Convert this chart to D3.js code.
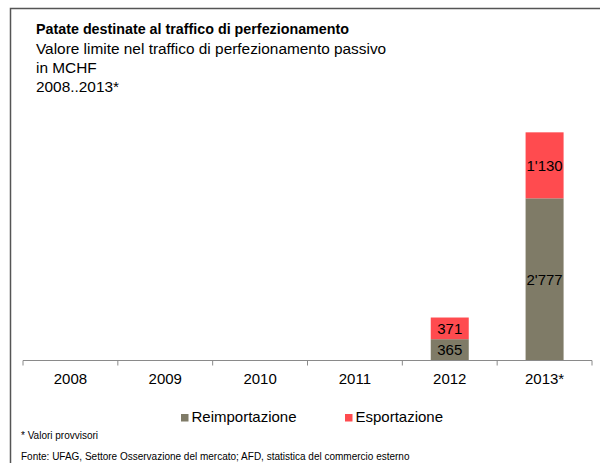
<!DOCTYPE html>
<html><head><meta charset="utf-8">
<script src="https://cdn.jsdelivr.net/npm/d3@7"></script>
<style>body{margin:0;background:#fff}svg{display:block;font-family:"Liberation Sans",Arial,sans-serif}</style>
</head><body><svg id="c" width="600" height="463"></svg>
<script>
const categories = ["2008","2009","2010","2011","2012","2013*"];
const reimportazione = [0,0,0,0,365,2777];
const esportazione = [0,0,0,0,371,1130];
const seriesNames = ["Reimportazione","Esportazione"];
const colors = ["#7f7b67","#ff4b4f"];
const fmt = v => d3.format(",")(v).replace(/,/g,"'");

const svg = d3.select("#c");
svg.append("rect").attr("x",10.5).attr("y",8.5).attr("width",620).attr("height",500)
  .attr("fill","none").attr("stroke","#555").attr("stroke-width",1.5);

const t = svg.append("g").attr("fill","#000");
t.append("text").attr("x",36).attr("y",34).attr("font-size",14.3).attr("font-weight","bold").text("Patate destinate al traffico di perfezionamento");
t.append("text").attr("x",36).attr("y",54).attr("font-size",15.4).text("Valore limite nel traffico di perfezionamento passivo");
t.append("text").attr("x",36).attr("y",73).attr("font-size",15.4).text("in MCHF");
t.append("text").attr("x",36).attr("y",92).attr("font-size",15.4).text("2008..2013*");

const x = d3.scaleBand().domain(categories).range([23,592]).paddingInner(0).paddingOuter(0);
const y = d3.scaleLinear().domain([0,4000]).range([360.5,126.9]);
const bw = 38;

const data = categories.map((c,i)=>({cat:c, Reimportazione:reimportazione[i], Esportazione:esportazione[i]}));
const stack = d3.stack().keys(seriesNames)(data);

stack.forEach((s,si)=>{
  const g = svg.append("g");
  s.forEach((d,i)=>{
    if (d[1]-d[0] <= 0) return;
    const cx = x(categories[i]) + x.bandwidth()/2;
    g.append("rect").attr("x",cx-bw/2).attr("width",bw)
      .attr("y",y(d[1])).attr("height",y(d[0])-y(d[1])).attr("fill",colors[si]);
    g.append("text").attr("x",cx).attr("y",(y(d[0])+y(d[1]))/2+5.5)
      .attr("text-anchor","middle").attr("font-size",15).attr("fill","#000").text(fmt(d[1]-d[0]));
  });
});

const ax = svg.append("g").attr("transform","translate(0,360.5)");
ax.append("line").attr("x1",23).attr("x2",592).attr("stroke","#8a8a8a").attr("stroke-width",1);
const ticks = categories.map(c=>x(c)).concat([x.range()[1]]);
ticks.forEach(tx=>ax.append("line").attr("x1",tx).attr("x2",tx).attr("y1",0).attr("y2",5).attr("stroke","#8a8a8a"));
categories.forEach(c=>ax.append("text").attr("x",x(c)+x.bandwidth()/2).attr("y",23)
  .attr("text-anchor","middle").attr("font-size",15).attr("fill","#000").text(c));

const leg = [{n:"Reimportazione",x:181,c:colors[0]},{n:"Esportazione",x:345,c:colors[1]}];
leg.forEach(l=>{
  svg.append("rect").attr("x",l.x).attr("y",414).attr("width",7.5).attr("height",7.5).attr("fill",l.c);
  svg.append("text").attr("x",l.x+10.5).attr("y",421.5).attr("font-size",15).attr("fill","#000").text(l.n);
});

svg.append("text").attr("x",21).attr("y",439).attr("font-size",10).attr("fill","#000").text("* Valori provvisori");
svg.append("text").attr("x",21).attr("y",459.5).attr("font-size",10).attr("fill","#000").text("Fonte: UFAG, Settore Osservazione del mercato; AFD, statistica del commercio esterno");
</script></body></html>
